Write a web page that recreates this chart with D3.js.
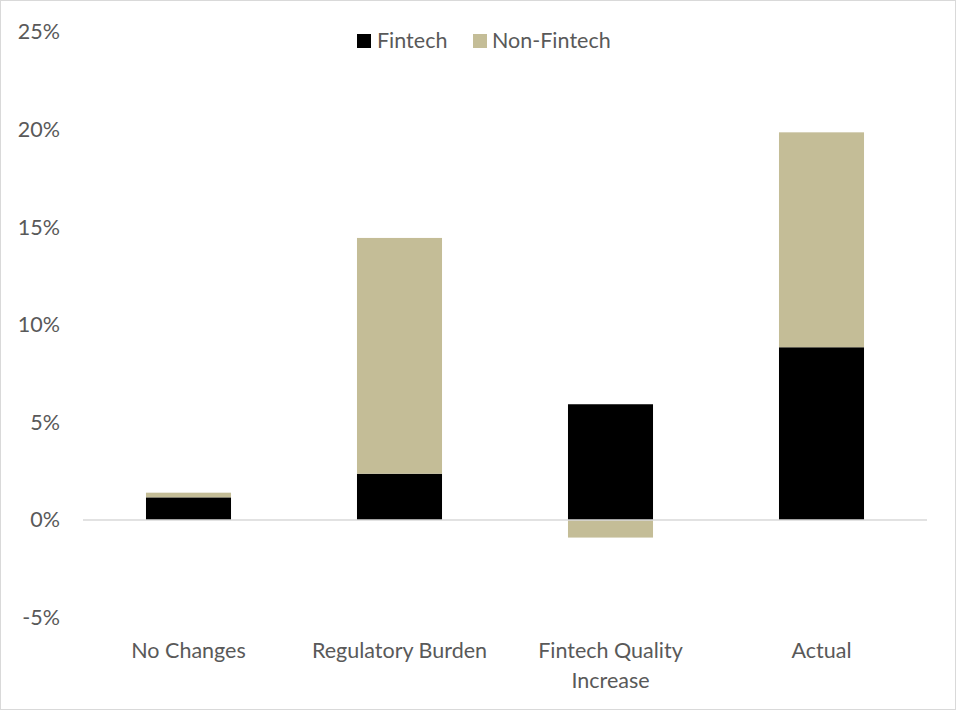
<!DOCTYPE html>
<html><head><meta charset="utf-8">
<script src="https://cdn.jsdelivr.net/npm/d3@7"></script>
<style>body{margin:0;background:#fff}svg{display:block}</style>
</head><body>
<script>
const categories = ["No Changes", "Regulatory Burden", "Fintech Quality Increase", "Actual"];
const categoryLines = [["No Changes"], ["Regulatory Burden"], ["Fintech Quality", "Increase"], ["Actual"]];
const fintech = [1.16, 2.37, 5.93, 8.85];
const nonFintech = [0.24, 12.08, -0.9, 11.01];
const seriesNames = ["Fintech", "Non-Fintech"];
const seriesColors = ["#000000", "#C4BD97"];
const yTicks = [-5, 0, 5, 10, 15, 20, 25];

const W = 957, H = 711;
const svg = d3.select("body").append("svg").attr("width", W).attr("height", H);
svg.append("rect").attr("x", 0.5).attr("y", 0.5).attr("width", W - 2).attr("height", H - 2)
  .attr("fill", "#fff").attr("stroke", "#d9d9d9");

const font = "Lato, 'Open Sans', sans-serif";
const fs = 21.5;
const x = d3.scaleBand().domain(categories).range([83, 927]).paddingInner(0.597).paddingOuter(0.2985);
const y = d3.scaleLinear().domain([-5, 25]).range([617.6, 32]);

// axis labels
const yAxis = d3.axisLeft(y).tickValues(yTicks).tickFormat(d => d + "%").tickSize(0).tickPadding(0);
const gy = svg.append("g").attr("transform", "translate(60,0)").call(yAxis);
gy.select(".domain").remove();
gy.selectAll("text").attr("font-family", font).attr("font-size", fs).attr("fill", "#595959");

// stacked bars
const stackData = categories.map((c, i) => ({cat: c, v: [fintech[i], nonFintech[i]]}));
stackData.forEach(d => {
  let pos = 0, neg = 0;
  d.v.forEach((v, k) => {
    let y0, y1;
    if (v >= 0) { y0 = pos; y1 = pos + v; pos = y1; } else { y0 = neg; y1 = neg + v; neg = y1; }
    svg.append("rect")
      .attr("x", x(d.cat)).attr("width", x.bandwidth())
      .attr("y", y(Math.max(y0, y1))).attr("height", Math.abs(y(y0) - y(y1)))
      .attr("fill", seriesColors[k]);
  });
});

// zero line
const xAxis = d3.axisBottom(x).tickSize(0).tickFormat("");
const gx = svg.append("g").attr("transform", `translate(0,${y(0)})`).call(xAxis);
gx.select(".domain").attr("stroke", "#d9d9d9").attr("stroke-width", 1.3).attr("d", "M83,0H927");

// category labels
categories.forEach((c, i) => {
  const t = svg.append("text").attr("text-anchor", "middle")
    .attr("font-family", font).attr("font-size", fs).attr("fill", "#595959");
  categoryLines[i].forEach((ln, j) => {
    t.append("tspan").attr("x", x(c) + x.bandwidth() / 2).attr("y", 658 + j * 30).text(ln);
  });
});

// legend
const legend = [{x: 357, tx: 377}, {x: 473, tx: 492}];
seriesNames.forEach((s, k) => {
  svg.append("rect").attr("x", legend[k].x).attr("y", 34).attr("width", 14).attr("height", 14).attr("fill", seriesColors[k]);
  svg.append("text").attr("x", legend[k].tx).attr("y", 48).attr("font-family", font)
    .attr("font-size", fs).attr("fill", "#595959").text(s);
});
</script>
</body></html>
